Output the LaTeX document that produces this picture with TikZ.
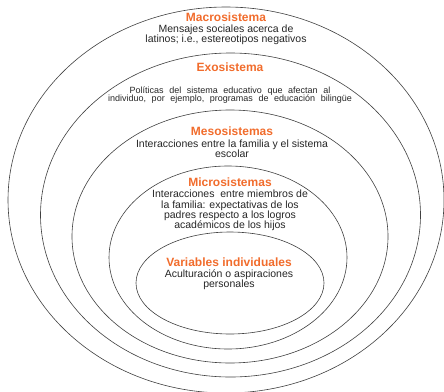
\documentclass[tikz,border=0pt]{standalone}
\usepackage{fontspec}
\setmainfont{Liberation Sans}
\definecolor{naranja}{RGB}{241,108,44}
\newcommand{\espaciado}{\spaceskip=5.6pt\relax}
\tikzset{
  anillo/.style={draw=black!75, line width=0.6pt},
  titulo/.style={text=naranja, font=\fontsize{12}{12}\selectfont\bfseries, inner sep=0pt},
  texto/.style={align=center, text=black!85, inner sep=0pt, font=\fontsize{10.5}{10.2}\selectfont},
  textochico/.style={texto, font=\fontsize{9}{8.6}\selectfont\espaciado},
}

\begin{document}
\begin{tikzpicture}[x=1pt,y=-1pt]
            \useasboundingbox (0,0) rectangle (444,391);
            \draw[anillo] (226,200) ellipse [x radius=218, y radius=193];
            \draw[anillo] (230.5,215) ellipse [x radius=190, y radius=162];
            \draw[anillo] (230,236.5) ellipse [x radius=158, y radius=126.5];
            \draw[anillo] (228,257.5) ellipse [x radius=119, y radius=91.5];
            \draw[anillo] (230,283) ellipse [x radius=94, y radius=51];
            \node[titulo] (macro) at (226,17.5) {Macrosistema};
            \node[texto] (macrotxt) at (226,35) {Mensajes sociales acerca de\\latinos; i.e., estereotipos negativos};
            \node[titulo] (exo) at (230,67) {Exosistema};
            \node[textochico] (exotxt) at (230,95) {Políticas del sistema educativo que afectan al\\individuo, por ejemplo, programas de educación bilingüe};
            \node[titulo] (meso) at (232,131.5) {Mesosistemas};
            \node[texto] (mesotxt) at (232,148.5) {Interacciones entre la familia y el sistema\\escolar};
            \node[titulo] (micro) at (230,182.5) {Microsistemas};
            \node[texto] (microtxt) at (230,210.5) {Interacciones~ entre miembros de\\la familia: expectativas de los\\padres respecto a los logros\\académicos de los hijos};
            \node[titulo] (indiv) at (229,262.5) {Variables individuales};
            \node[texto] (indivtxt) at (229,280) {Aculturación o aspiraciones\\personales};
        \end{tikzpicture}
\end{document}
